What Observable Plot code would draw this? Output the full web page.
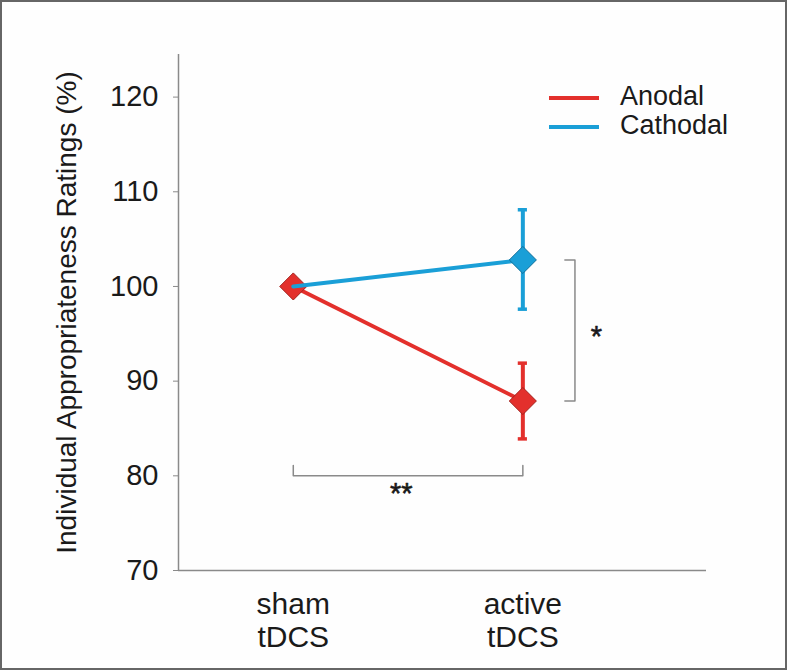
<!DOCTYPE html>
<html><head><meta charset="utf-8">
<script src="https://cdn.jsdelivr.net/npm/d3@7"></script>
<script src="https://cdn.jsdelivr.net/npm/@observablehq/plot@0.6"></script>
<style>
body{margin:0;background:#fff;}
#wrap{position:relative;width:787px;height:670px;overflow:hidden;background:#fefefe;font-family:"Liberation Sans",Arial,sans-serif;}
#chart svg{display:block;}
#border{position:absolute;left:0;top:0;width:787px;height:670px;box-sizing:border-box;border:2px solid #666;pointer-events:none;}
#legend{position:absolute;left:549px;top:84px;}
.row{display:flex;align-items:center;height:28.4px;}
.sw{width:50px;height:4px;margin-right:21px;}
.lab{font-size:27px;color:#1a1a1a;position:relative;top:-1.5px;}
</style></head><body>
<div id="wrap"><div id="chart"></div><div id="legend"></div><div id="border"></div></div>
<script>
// ---- data ----
const conditions = ["sham\ntDCS", "active\ntDCS"];
const conditionPos = [1, 2];
const series = ["Anodal", "Cathodal"];
const colors = ["#e3302c", "#1a9fd7"];
const outlines = ["#a3201c", "#0f6f9a"];
const anodalMean = [100, 87.9];
const anodalLow = [100, 83.9];
const anodalHigh = [100, 91.9];
const cathodalMean = [100, 102.8];
const cathodalLow = [100, 97.6];
const cathodalHigh = [100, 108.1];
const yTicks = [70, 80, 90, 100, 110, 120];
const yDomain = [70, 124.5];
const xDomain = [0.5, 2.8];
const yLabel = "Individual Appropriateness Ratings (%)";
// significance annotations
const sigActive = [{x: 2.183, y: 102.8}, {x: 2.227, y: 102.8}, {x: 2.227, y: 87.9}, {x: 2.183, y: 87.9}];
const sigActiveLabel = [{x: 2.32, y: 94.7, text: "*"}];
const sigAnodal = [{x: 1, y: 81.1}, {x: 1, y: 80}, {x: 2, y: 80}, {x: 2, y: 81.1}];
const sigAnodalLabel = [{x: 1.47, y: 78.1, text: "**"}];
const capHalf = 0.02;

// ---- build table ----
const means = [anodalMean, cathodalMean], lows = [anodalLow, cathodalLow], highs = [anodalHigh, cathodalHigh];
const rows = [];
series.forEach((s, i) => conditionPos.forEach((x, j) => rows.push({series: s, x, mean: means[i][j], low: lows[i][j], high: highs[i][j]})));
const bySeries = s => rows.filter(d => d.series === s);
const errs = s => bySeries(s).filter(d => d.low !== d.high);

const marks = [];
marks.push(Plot.ruleY([yDomain[0]], {stroke: "#8a8a8a", strokeWidth: 1.5}));
marks.push(Plot.ruleX([xDomain[0]], {stroke: "#8a8a8a", strokeWidth: 1.5}));
marks.push(Plot.axisY({ticks: yTicks, tickSize: 5, tickPadding: 15, fontSize: 29, stroke: "#8a8a8a", fill: "#1a1a1a", label: null}));
marks.push(Plot.axisX({ticks: conditionPos, tickFormat: d => conditions[conditionPos.indexOf(d)], tickSize: 0, tickPadding: 20, fontSize: 30, lineHeight: 1.11, fill: "#1a1a1a", label: null}));
marks.push(Plot.text([yLabel], {frameAnchor: "left", textAnchor: "middle", rotate: -90, dx: -122, lineAnchor: "top", fontSize: 28, fill: "#1a1a1a", text: d => d}));
// brackets
marks.push(Plot.line(sigActive, {x: "x", y: "y", stroke: "#8a8a8a", strokeWidth: 1.5}));
marks.push(Plot.line(sigAnodal, {x: "x", y: "y", stroke: "#8a8a8a", strokeWidth: 1.5}));
marks.push(Plot.text(sigActiveLabel, {x: "x", y: "y", text: "text", fontSize: 29, fill: "#1a1a1a", stroke: "#1a1a1a", strokeWidth: 0.6}));
marks.push(Plot.text(sigAnodalLabel, {x: "x", y: "y", text: "text", fontSize: 29, fill: "#1a1a1a", stroke: "#1a1a1a", strokeWidth: 0.6}));
// series
series.forEach((s, i) => {
  const data = bySeries(s);
  const e = errs(s);
  marks.push(Plot.line(data, {x: "x", y: "mean", stroke: colors[i], strokeWidth: 4}));
  marks.push(Plot.ruleX(e, {x: "x", y1: "low", y2: "high", stroke: colors[i], strokeWidth: 4}));
  marks.push(Plot.ruleY(e, {y: "low", x1: d => d.x - capHalf, x2: d => d.x + capHalf, stroke: colors[i], strokeWidth: 3.5}));
  marks.push(Plot.ruleY(e, {y: "high", x1: d => d.x - capHalf, x2: d => d.x + capHalf, stroke: colors[i], strokeWidth: 3.5}));
  const pts = i === 0 ? data : data.filter(d => d.x !== conditionPos[0]);
  marks.push(Plot.dot(pts, {x: "x", y: "mean", symbol: "diamond2", r: 12.2, fill: colors[i], stroke: outlines[i], strokeWidth: 1}));
});

const chart = Plot.plot({
  width: 787, height: 670,
  marginLeft: 178, marginRight: 81, marginTop: 54, marginBottom: 100,
  x: {type: "linear", domain: xDomain},
  y: {type: "linear", domain: yDomain},
  style: {fontFamily: '"Liberation Sans", Arial, sans-serif', background: "transparent", color: "#1a1a1a"},
  marks
});
document.getElementById("chart").appendChild(chart);

const legend = document.getElementById("legend");
series.forEach((s, i) => {
  const row = document.createElement("div"); row.className = "row";
  const sw = document.createElement("div"); sw.className = "sw"; sw.style.background = colors[i];
  const lab = document.createElement("span"); lab.className = "lab"; lab.textContent = s;
  row.appendChild(sw); row.appendChild(lab); legend.appendChild(row);
});
</script>
</body></html>
